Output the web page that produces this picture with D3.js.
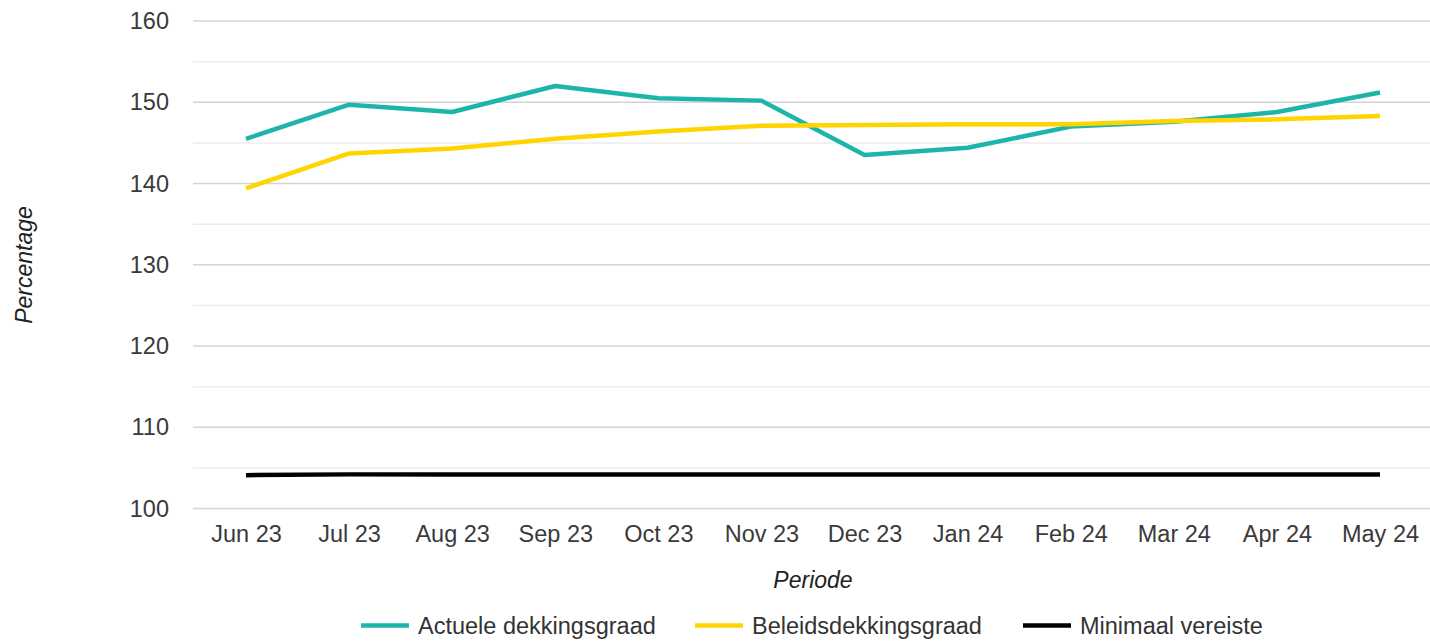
<!DOCTYPE html>
<html><head><meta charset="utf-8">
<script src="https://cdn.jsdelivr.net/npm/d3@7"></script>
<style>
html,body{margin:0;padding:0;background:#fff;}
svg{display:block;font-family:"Liberation Sans",Arial,sans-serif;}
</style></head>
<body><svg id="c" width="1430" height="641"></svg>
<script>
const months = ["Jun 23","Jul 23","Aug 23","Sep 23","Oct 23","Nov 23","Dec 23","Jan 24","Feb 24","Mar 24","Apr 24","May 24"];
const actuele = [145.5,149.7,148.8,152.0,150.5,150.2,143.5,144.4,147.0,147.6,148.8,151.2];
const beleids = [139.4,143.7,144.3,145.5,146.4,147.1,147.2,147.3,147.3,147.7,147.9,148.3];
const minimaal = [104.1,104.2,104.2,104.2,104.2,104.2,104.2,104.2,104.2,104.2,104.2,104.2];
const yTicks = [100,110,120,130,140,150,160];
const yMinor = [105,115,125,135,145,155];
const seriesNames = ["Actuele dekkingsgraad","Beleidsdekkingsgraad","Minimaal vereiste"];
const colors = ["#1DB5AA","#FFD400","#000000"];

const svg = d3.select("#c");
const x = d3.scalePoint().domain(months).range([246,1380]);
const y = d3.scaleLinear().domain([100,160]).range([508.5,21]);
const gl = 193, gr = 1430;

svg.append("g").selectAll("line").data(yMinor).join("line")
  .attr("x1",gl).attr("x2",gr).attr("y1",d=>y(d)).attr("y2",d=>y(d))
  .attr("stroke","#ececec").attr("stroke-width",1.5);
svg.append("g").selectAll("line").data(yTicks).join("line")
  .attr("x1",gl).attr("x2",gr).attr("y1",d=>y(d)).attr("y2",d=>y(d))
  .attr("stroke","#d4d4d4").attr("stroke-width",1.5);

const yAxis = d3.axisLeft(y).tickValues(yTicks).tickSize(0).tickPadding(0);
const ya = svg.append("g").attr("transform","translate(169,0)").call(yAxis);
ya.select(".domain").remove();
ya.selectAll("text").attr("font-size",23.5).attr("fill","#3a3a3a").attr("font-family","Liberation Sans, Arial, sans-serif");

const xAxis = d3.axisBottom(x).tickSize(0).tickPadding(0);
const xa = svg.append("g").attr("transform","translate(0,525)").call(xAxis);
xa.select(".domain").remove();
xa.selectAll("text").attr("font-size",23.5).attr("fill","#3a3a3a").attr("font-family","Liberation Sans, Arial, sans-serif");

svg.append("text").attr("x",813).attr("y",588).attr("text-anchor","middle")
  .attr("font-size",23).attr("font-style","italic").attr("fill","#222").text("Periode");
svg.append("text").attr("transform","translate(32,265) rotate(-90)").attr("text-anchor","middle")
  .attr("font-size",23).attr("font-style","italic").attr("fill","#222").text("Percentage");

const line = d3.line().x((d,i)=>x(months[i])).y(d=>y(d));
[actuele,beleids,minimaal].forEach((s,k)=>{
  svg.append("path").datum(s).attr("d",line).attr("fill","none")
    .attr("stroke",colors[k]).attr("stroke-width",4.5).attr("stroke-linejoin","round");
});

const legX = [361,695,1023];
const lg = svg.append("g");
seriesNames.forEach((n,k)=>{
  lg.append("line").attr("x1",legX[k]).attr("x2",legX[k]+48).attr("y1",625.5).attr("y2",625.5)
    .attr("stroke",colors[k]).attr("stroke-width",4.5);
  lg.append("text").attr("x",legX[k]+57).attr("y",634).attr("font-size",23.5).attr("fill","#333").text(n);
});
</script></body></html>
